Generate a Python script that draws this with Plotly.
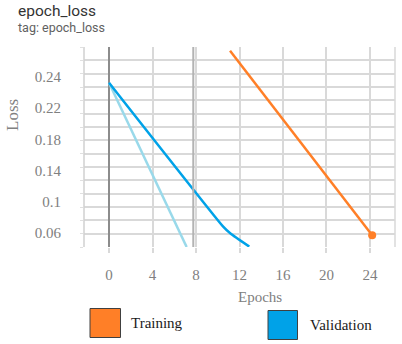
import numpy as np
import plotly.graph_objects as go

# values
val_epochs = [0, 10.5, 11.2, 12.9]
val_loss = [0.2334, 0.0673, 0.0590, 0.0442]

val_smooth_epochs = [0, 7.14]
val_smooth_loss = [0.2334, 0.0438]

train_epochs = [11.13, 24.2]
train_loss = [0.2703, 0.0573]

x_ticks = [0, 4, 8, 12, 16, 20, 24]
y_tick_labels = ["0.06", "0.1", "0.14", "0.18", "0.22", "0.24"]

ORANGE = "#ff7f27"
BLUE = "#00a2e8"
LIGHT_BLUE = "#99d9ea"
SERIF = "Liberation Serif, DejaVu Serif, serif"

W, H = 402, 344
L, R, T, B = 84, 395, 47, 247


def px(x):
    return (x - L) / (R - L)


def py(y):
    return (B - y) / (B - T)


fig = go.Figure()

fig.add_trace(go.Scatter(
    x=val_smooth_epochs, y=val_smooth_loss, mode="lines",
    line=dict(color=LIGHT_BLUE, width=2.5), showlegend=False,
))
fig.add_trace(go.Scatter(
    x=val_epochs, y=val_loss, mode="lines",
    line=dict(color=BLUE, width=2.5, shape="spline", smoothing=0.4),
    showlegend=False,
))
fig.add_trace(go.Scatter(
    x=train_epochs, y=train_loss, mode="lines",
    line=dict(color=ORANGE, width=2.5), showlegend=False,
))
fig.add_trace(go.Scatter(
    x=[train_epochs[-1]], y=[train_loss[-1]], mode="markers",
    marker=dict(color=ORANGE, size=8), showlegend=False,
))

y_lo, y_hi = 0.0438, 0.2746
grid_step = (y_hi - y_lo) / 15

fig.update_xaxes(
    range=[-2.3, 26.3],
    tickvals=x_ticks,
    ticks="outside", ticklen=5, tickcolor="#d9d9d9", tickwidth=1.5,
    ticklabelstandoff=9,
    showgrid=True, gridcolor="#d9d9d9", gridwidth=1.5,
    zeroline=True, zerolinecolor="#8c8c8c", zerolinewidth=2,
    showline=False, automargin=False,
    tickfont=dict(family=SERIF, size=15, color="#808080"),
)
fig.update_yaxes(
    range=[y_lo, y_hi],
    tickvals=list(np.linspace(0.06, 0.24, 6)),
    ticktext=y_tick_labels,
    ticks="", showgrid=False, zeroline=False,
    ticklabelstandoff=22, automargin=False,
    minor=dict(tick0=y_lo, dtick=grid_step, showgrid=True,
               gridcolor="#d9d9d9", gridwidth=1.5,
               ticks="outside", ticklen=3, tickcolor="#e0e0e0"),
    tickfont=dict(family=SERIF, size=15, color="#808080"),
)

# border lines and darker line at 8
fig.add_shape(type="line", xref="paper", yref="paper", x0=0, x1=0, y0=0, y1=1,
              line=dict(color="#d0d0d0", width=1.5))
fig.add_shape(type="line", xref="paper", yref="paper", x0=1, x1=1, y0=0, y1=1,
              line=dict(color="#d9d9d9", width=1.5))
fig.add_shape(type="line", xref="x", yref="paper", x0=7.75, x1=7.75, y0=0, y1=1,
              line=dict(color="#b3b3b3", width=2))

# legend swatches
fig.add_shape(type="rect", xref="paper", yref="paper",
              x0=px(90), x1=px(120.5), y0=py(337.5), y1=py(308.5),
              fillcolor=ORANGE, line=dict(color="#404040", width=1))
fig.add_shape(type="rect", xref="paper", yref="paper",
              x0=px(268), x1=px(297.5), y0=py(339.5), y1=py(310.5),
              fillcolor=BLUE, line=dict(color="#404040", width=1))

annotations = [
    dict(text="Training", x=px(129), y=py(323), xanchor="left", yanchor="middle",
         font=dict(family=SERIF, size=15, color="#1a1a1a")),
    dict(text="Validation", x=px(308), y=py(325), xanchor="left", yanchor="middle",
         font=dict(family=SERIF, size=15, color="#1a1a1a")),
    dict(text="Epochs", x=px(260), y=py(297), xanchor="center", yanchor="middle",
         font=dict(family=SERIF, size=15, color="#808080")),
    dict(text="Loss", x=px(12), y=py(115), xanchor="center", yanchor="middle",
         textangle=-90, font=dict(family=SERIF, size=17, color="#808080")),
    dict(text="epoch_loss", x=px(16), y=py(0), xanchor="left", yanchor="top",
         font=dict(family="Roboto, sans-serif", size=15.5, color="#333333")),
    dict(text="tag: epoch_loss", x=px(16), y=py(18), xanchor="left", yanchor="top",
         font=dict(family="Roboto, sans-serif", size=12.5, color="#616161")),
]
for a in annotations:
    a.update(xref="paper", yref="paper", showarrow=False)

fig.update_layout(
    width=W, height=H,
    margin=dict(l=L, r=W - R, t=T, b=H - B, pad=0),
    plot_bgcolor="white", paper_bgcolor="white",
    annotations=annotations,
    showlegend=False,
)

fig.write_html("out.html", config={"displayModeBar": False},
               post_script="document.body.style.margin='0';")
